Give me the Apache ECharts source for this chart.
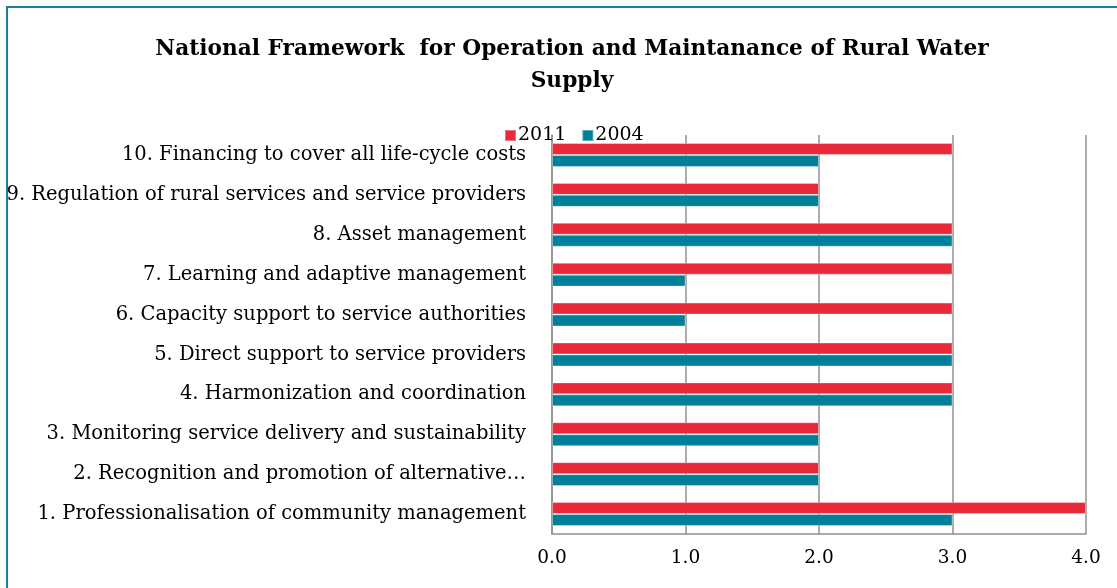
<!DOCTYPE html>
<html>
<head>
<meta charset="utf-8">
<script src="https://cdn.jsdelivr.net/npm/echarts@6/dist/echarts.min.js"></script>
<style>
  html, body { margin: 0; padding: 0; background: #fff; }
  #chart { width: 1117px; height: 588px; }
</style>
</head>
<body>
<div id="chart"></div>
<script>
// Framework components, listed bottom to top on the category axis
const categories = [
  '1. Professionalisation of community management',
  '2. Recognition and promotion of alternative…',
  '3. Monitoring service delivery and sustainability',
  '4. Harmonization and coordination',
  '5. Direct support to service providers',
  '6. Capacity support to service authorities',
  '7. Learning and adaptive management',
  '8. Asset management',
  '9. Regulation of rural services and service providers',
  '10. Financing to cover all life-cycle costs'
];
const scores2011 = [4, 2, 2, 3, 3, 3, 3, 3, 2, 3];
const scores2004 = [3, 2, 2, 3, 3, 1, 1, 3, 2, 2];
const xTicks = ['0.0', '1.0', '2.0', '3.0', '4.0'];

const FONT = '"DejaVu Serif", serif';
const RED = '#E8293A';
const TEAL = '#007F99';
const GRID_GRAY = '#909090';

const chart = echarts.init(document.getElementById('chart'), null, { renderer: 'canvas' });

chart.setOption({
  backgroundColor: '#ffffff',
  animation: false,
  title: {
    text: 'National Framework  for Operation and Maintanance of Rural Water\nSupply',
    left: 567,
    top: 28,
    textAlign: 'center',
    textStyle: {
      fontFamily: FONT,
      fontWeight: 'bold',
      fontSize: 21.7,
      lineHeight: 32,
      color: '#000'
    }
  },
  legend: {
    data: ['2011', '2004'],
    left: 499,
    top: 121,
    itemWidth: 11,
    itemHeight: 11,
    itemGap: 15,
    icon: 'rect',
    textStyle: { fontFamily: FONT, fontSize: 19, color: '#000', padding: [0, 0, 0, -3] }
  },
  grid: { left: 552, right: 31, top: 135, bottom: 54, containLabel: false },
  xAxis: {
    type: 'value',
    min: 0,
    max: 4,
    interval: 1,
    axisLine: { show: true, lineStyle: { color: GRID_GRAY, width: 1.5 } },
    axisTick: { show: false },
    splitLine: { show: true, lineStyle: { color: GRID_GRAY, width: 1.5 } },
    axisLabel: {
      margin: 15,
      fontFamily: FONT,
      fontSize: 18.5,
      color: '#000',
      formatter: v => xTicks[Math.round(v)]
    }
  },
  yAxis: {
    type: 'category',
    data: categories,
    axisLine: { show: true, lineStyle: { color: GRID_GRAY, width: 1.5 } },
    axisTick: { show: false },
    axisLabel: {
      margin: 26,
      fontFamily: FONT,
      fontSize: 19.5,
      color: '#000'
    }
  },
  graphic: [
    { type: 'line', shape: { x1: 7, y1: 7, x2: 7, y2: 588 }, style: { stroke: '#1B7F97', lineWidth: 2 } },
    { type: 'line', shape: { x1: 6, y1: 7, x2: 1117, y2: 7 }, style: { stroke: '#1B7F97', lineWidth: 2 } }
  ],
  series: [
    {
      name: '2011',
      type: 'bar',
      data: scores2011,
      barGap: '0%',
      barCategoryGap: '40%',
      itemStyle: { color: RED, borderColor: 'rgba(255,255,255,0.35)', borderWidth: 1 }
    },
    {
      name: '2004',
      type: 'bar',
      data: scores2004,
      barGap: '0%',
      barCategoryGap: '40%',
      itemStyle: { color: TEAL, borderColor: 'rgba(255,255,255,0.35)', borderWidth: 1 }
    }
  ]
});
</script>
</body>
</html>
